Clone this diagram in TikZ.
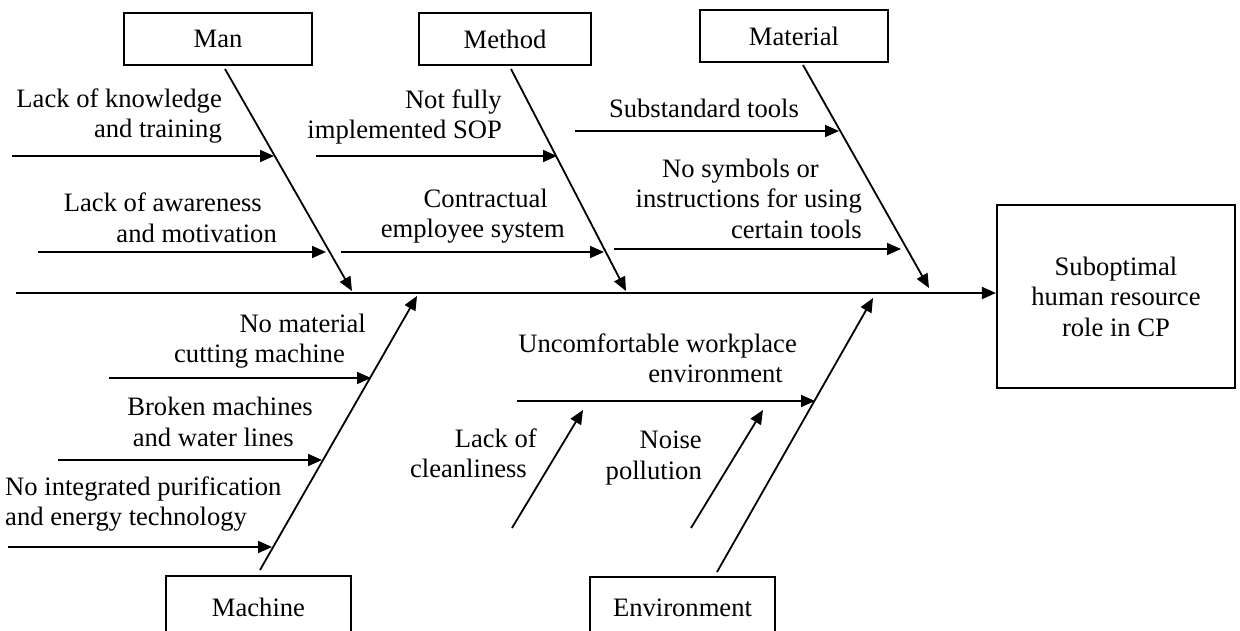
\documentclass[tikz,border=0pt]{standalone}
\usepackage{fontspec}
\setmainfont{Liberation Serif}
\usetikzlibrary{arrows.meta}
\begin{document}
\begin{tikzpicture}[x=1pt,y=-1pt,
  lbl/.style={font=\fontsize{26.6}{30.5}\selectfont, inner sep=0pt},
  box/.style={draw, line width=2.2pt, font=\fontsize{26.6}{30.5}\selectfont, inner sep=0pt, align=center},
  arr/.style={line width=1.8pt, -{Triangle[length=14pt,width=12pt]}},
]
\useasboundingbox (0,0) rectangle (1240,631);

% category boxes
\node[box, minimum width=188pt, minimum height=52pt] (man) at (218,39) {Man};
\node[box, minimum width=172pt, minimum height=52pt] (method) at (505,39) {Method};
\node[box, minimum width=188pt, minimum height=52pt] (material) at (794,36) {Material};
\node[box, minimum width=238pt, minimum height=183pt] (effect) at (1116,296.5) {Suboptimal\\human resource\\role in CP};
\begin{scope}
\clip (0,0) rectangle (1240,631);
\node[box, minimum width=185pt, minimum height=62pt, anchor=north] (machine) at (258.5,575) {Machine};
\node[box, minimum width=185pt, minimum height=62pt, anchor=north] (env) at (682.5,576) {Environment};
\end{scope}

% spine
\coordinate (sp0) at (16,293);
\draw[arr] (sp0) -- (sp0 -| effect.west);

% main bones
\coordinate (manS) at (225,69);   \coordinate (manT) at (352,291);
\coordinate (metS) at (511,69);   \coordinate (metT) at (626,291);
\coordinate (matS) at (803,65);   \coordinate (matT) at (929,288);
\coordinate (macS) at (260,570);  \coordinate (macT) at (417,296);
\coordinate (envS) at (717,572);  \coordinate (envT) at (873,298);
\draw[arr] (manS) -- (manT);
\draw[arr] (metS) -- (metT);
\draw[arr] (matS) -- (matT);
\draw[arr] (macS) -- (macT);
\draw[arr] (envS) -- (envT);

% sub-cause arrows
\coordinate (a1) at (12,156);   \coordinate (b1) at (274,156);
\coordinate (a2) at (38,252);   \coordinate (b2) at (326,252);
\coordinate (a3) at (316,156);  \coordinate (b3) at (557,156);
\coordinate (a4) at (341,252);  \coordinate (b4) at (604,252);
\coordinate (a5) at (575,131);  \coordinate (b5) at (839,131);
\coordinate (a6) at (614,249);  \coordinate (b6) at (901,249);
\coordinate (a7) at (109,378);  \coordinate (b7) at (371,378);
\coordinate (a8) at (58,460);   \coordinate (b8) at (322,460);
\coordinate (a9) at (8,547);    \coordinate (b9) at (272,547);
\coordinate (a10) at (517,401); \coordinate (b10) at (815,401);
\coordinate (a11) at (512,528); \coordinate (b11) at (583,410);
\coordinate (a12) at (691,528); \coordinate (b12) at (763,410);
\foreach \i in {1,...,12} { \draw[arr] (a\i) -- (b\i); }

% labels
\node[lbl, align=right, anchor=east] (l1) at (222,116) {Lack of knowledge\\and training};
\node[lbl, align=right, anchor=east] (l2) at (277,218) {Lack of awareness\hspace*{15pt}\\and motivation};
\node[lbl, align=right, anchor=east] (l3) at (502,117) {Not fully\\implemented SOP};
\node[lbl, align=right, anchor=east] (l4) at (565,216) {Contractual\hspace*{17pt}\\employee system};
\node[lbl] (l5) at (704,108) {Substandard tools};
\node[lbl, align=right, anchor=east] (l6) at (862,198.5) {No symbols or\hspace*{43pt}\\instructions for using\hspace*{17pt}\\certain tools};
\node[lbl, align=right, anchor=east] (l7) at (366,341) {No material\\cutting machine\hspace*{21pt}};
\node[lbl, align=right, anchor=east] (l8) at (313,422) {Broken machines\\and water lines\hspace*{19pt}};
\node[lbl, align=left, anchor=west] (l9) at (5,504) {No integrated purification\\and energy technology};
\node[lbl, align=right, anchor=east] (l10) at (797,358.5) {Uncomfortable workplace\\environment\hspace*{14pt}};
\node[lbl, align=right, anchor=east] (l11) at (537,453.5) {Lack of\\cleanliness\hspace*{10pt}};
\node[lbl, align=right, anchor=east] (l12) at (702,458) {Noise\\pollution};
\end{tikzpicture}
\end{document}
